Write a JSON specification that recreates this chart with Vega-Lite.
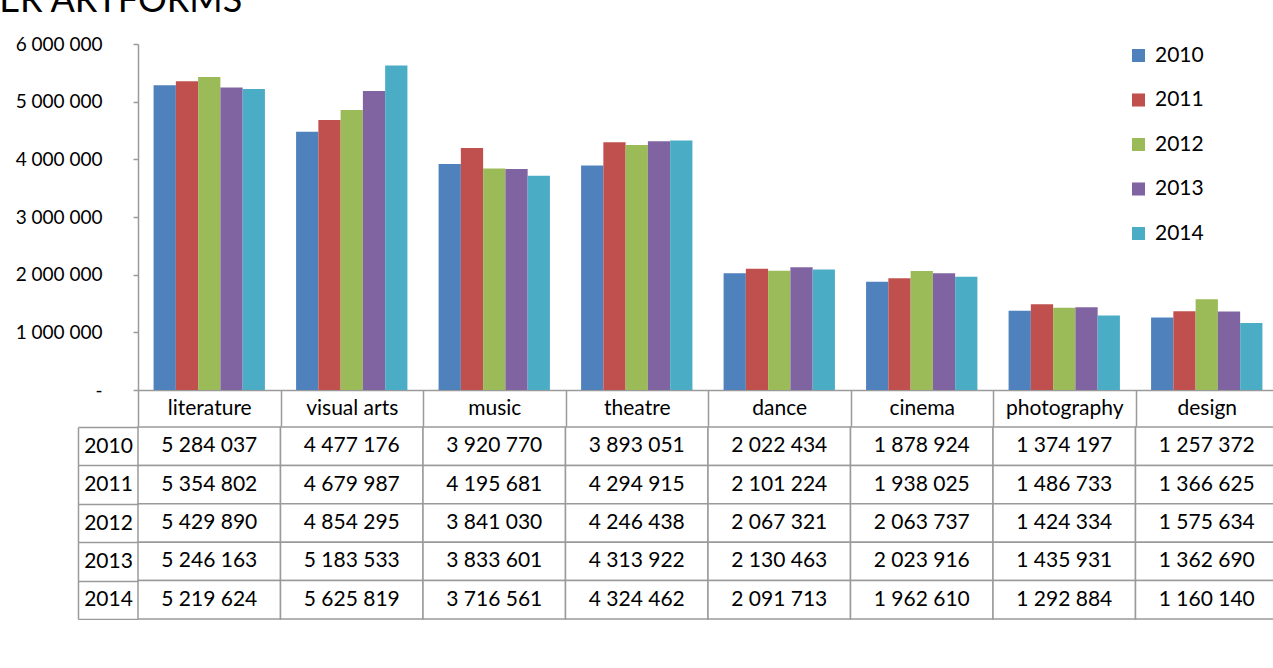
{
  "$schema": "https://vega.github.io/schema/vega-lite/v6.json",
  "padding": {"left": -1, "top": -17, "right": 0, "bottom": 0},
  "background": "white",
  "title": {"text": "ER ARTFORMS", "anchor": "start", "fontSize": 36, "font": "Lato", "fontWeight": "normal", "color": "#000000", "dx": -16, "offset": 15},
  "config": {
    "locale": {"number": {"decimal": ",", "thousands": " ", "grouping": [3], "currency": ["", ""]}},
    "view": {"stroke": null},
    "font": "Lato",
    "axis": {"labelFont": "Lato", "domainColor": "#9a9a9a", "tickColor": "#9a9a9a", "domainWidth": 1.5, "tickWidth": 1.5, "labelColor": "#000000", "grid": false, "title": null}
  },
  "datasets": {
    "arts": [
      {"category": "literature", "year": "2010", "value": 5284037},
      {"category": "literature", "year": "2011", "value": 5354802},
      {"category": "literature", "year": "2012", "value": 5429890},
      {"category": "literature", "year": "2013", "value": 5246163},
      {"category": "literature", "year": "2014", "value": 5219624},
      {"category": "visual arts", "year": "2010", "value": 4477176},
      {"category": "visual arts", "year": "2011", "value": 4679987},
      {"category": "visual arts", "year": "2012", "value": 4854295},
      {"category": "visual arts", "year": "2013", "value": 5183533},
      {"category": "visual arts", "year": "2014", "value": 5625819},
      {"category": "music", "year": "2010", "value": 3920770},
      {"category": "music", "year": "2011", "value": 4195681},
      {"category": "music", "year": "2012", "value": 3841030},
      {"category": "music", "year": "2013", "value": 3833601},
      {"category": "music", "year": "2014", "value": 3716561},
      {"category": "theatre", "year": "2010", "value": 3893051},
      {"category": "theatre", "year": "2011", "value": 4294915},
      {"category": "theatre", "year": "2012", "value": 4246438},
      {"category": "theatre", "year": "2013", "value": 4313922},
      {"category": "theatre", "year": "2014", "value": 4324462},
      {"category": "dance", "year": "2010", "value": 2022434},
      {"category": "dance", "year": "2011", "value": 2101224},
      {"category": "dance", "year": "2012", "value": 2067321},
      {"category": "dance", "year": "2013", "value": 2130463},
      {"category": "dance", "year": "2014", "value": 2091713},
      {"category": "cinema", "year": "2010", "value": 1878924},
      {"category": "cinema", "year": "2011", "value": 1938025},
      {"category": "cinema", "year": "2012", "value": 2063737},
      {"category": "cinema", "year": "2013", "value": 2023916},
      {"category": "cinema", "year": "2014", "value": 1962610},
      {"category": "photography", "year": "2010", "value": 1374197},
      {"category": "photography", "year": "2011", "value": 1486733},
      {"category": "photography", "year": "2012", "value": 1424334},
      {"category": "photography", "year": "2013", "value": 1435931},
      {"category": "photography", "year": "2014", "value": 1292884},
      {"category": "design", "year": "2010", "value": 1257372},
      {"category": "design", "year": "2011", "value": 1366625},
      {"category": "design", "year": "2012", "value": 1575634},
      {"category": "design", "year": "2013", "value": 1362690},
      {"category": "design", "year": "2014", "value": 1160140}
    ]
  },
  "spacing": -14,
  "resolve": {"scale": {"x": "independent", "y": "independent"}},
  "vconcat": [
    {
      "width": 1140,
      "height": 346,
      "data": {"name": "arts"},
      "mark": {"type": "bar"},
      "encoding": {
        "x": {
          "field": "category", "type": "nominal",
          "sort": ["literature", "visual arts", "music", "theatre", "dance", "cinema", "photography", "design"],
          "scale": {"paddingInner": 0, "paddingOuter": 0},
          "axis": {"orient": "bottom", "tickBand": "extent", "tickSize": 36, "labelPadding": -18, "labelBaseline": "middle", "labelAngle": 0, "labelFontSize": 21, "labelAlign": "center"}
        },
        "xOffset": {"field": "year", "type": "nominal", "scale": {"paddingInner": 0, "paddingOuter": 0.7}},
        "y": {
          "field": "value", "type": "quantitative",
          "scale": {"domain": [0, 6000000], "nice": false},
          "axis": {"values": [0, 1000000, 2000000, 3000000, 4000000, 5000000, 6000000], "tickSize": 5, "labelPadding": 31, "labelFontSize": 19, "labelExpr": "datum.value == 0 ? '-\u00a0\u00a0\u00a0\u00a0\u00a0' : format(datum.value, ',d')"}
        },
        "color": {
          "field": "year", "type": "nominal",
          "scale": {"domain": ["2010", "2011", "2012", "2013", "2014"], "range": ["#4F81BD", "#C0504D", "#9BBB59", "#8064A2", "#4BACC6"]},
          "legend": {"title": null, "orient": "none", "legendX": 990, "legendY": 1, "symbolType": "square", "symbolSize": 170, "symbolStrokeWidth": 0, "labelFontSize": 21, "labelFont": "Lato", "rowPadding": 22.5, "labelOffset": 6, "padding": 0}
        }
      }
    },
    {
      "width": 1140,
      "height": 192,
      "data": {"name": "arts"},
      "encoding": {
        "x": {
          "field": "category", "type": "nominal",
          "sort": ["literature", "visual arts", "music", "theatre", "dance", "cinema", "photography", "design"],
          "scale": {"paddingInner": 0, "paddingOuter": 0},
          "axis": null
        },
        "y": {
          "field": "year", "type": "nominal",
          "scale": {"domain": ["2010", "2011", "2012", "2013", "2014"], "paddingInner": 0, "paddingOuter": 0},
          "axis": {"orient": "left", "offset": 60, "tickBand": "extent", "tickSize": -60, "labelPadding": 30, "labelAlign": "center", "labelBaseline": "middle", "labelFontSize": 21}
        }
      },
      "layer": [
        {"mark": {"type": "rect", "fill": "white", "stroke": "#9a9a9a", "strokeWidth": 1.5}},
        {"mark": {"type": "text", "fontSize": 21, "font": "Lato", "color": "#000000"},
         "encoding": {"text": {"field": "value", "type": "quantitative", "format": ",d"}}}
      ]
    }
  ]
}
